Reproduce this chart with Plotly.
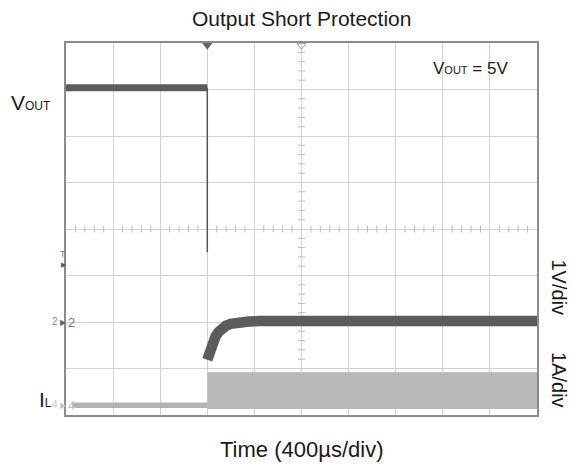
import plotly.graph_objects as go

# ---- data (time in µs, vertical in scope divisions from bottom) ----
vout_pre_t = [0, 1200]
vout_pre_v = [7.04, 7.04]
vout_fall_t = [1200, 1200]
vout_fall_v = [7.04, 3.5]
rise_t = [1200, 1210, 1220, 1235, 1250, 1270, 1295, 1325, 1360, 1400, 1460, 1550, 1650, 4000]
rise_v = [1.19, 1.285, 1.377, 1.493, 1.589, 1.69, 1.783, 1.866, 1.921, 1.962, 1.994, 2.012, 2.02, 2.02]
il_pre_t = [50, 1200]
il_pre_v = [0.21, 0.21]
il_band_t = [1200, 4000]
il_band_low = [0.13, 0.13]
il_band_high = [0.91, 0.91]

x_range = [0, 4000]
y_range = [0, 8]
time_per_div = 400
minor_x = [t for t in range(80, 4000, 80) if t % 400 != 0]
minor_y = [i / 5 for i in range(1, 40) if i % 5 != 0]
center_t = 2000
center_div = 4
trigger_t = 1200

FONT = "Arial, Liberation Sans, sans-serif"
DARK = "#5c5c5c"
LIGHT = "#b9b9b9"

fig = go.Figure()

# IL band after short (fill between low and high)
fig.add_trace(go.Scatter(x=il_band_t, y=il_band_low, mode="lines",
                         line=dict(color=LIGHT, width=0), showlegend=False, hoverinfo="skip"))
fig.add_trace(go.Scatter(x=il_band_t, y=il_band_high, mode="lines", fill="tonexty",
                         fillcolor=LIGHT, line=dict(color=LIGHT, width=1),
                         showlegend=False, hoverinfo="skip"))
# IL before short
fig.add_trace(go.Scatter(x=il_pre_t, y=il_pre_v, mode="lines",
                         line=dict(color="#b3b3b3", width=5.5), showlegend=False))
# minor ticks on center cross
fig.add_trace(go.Scatter(x=minor_x, y=[center_div] * len(minor_x), mode="markers",
                         marker=dict(symbol="line-ns", size=5, line=dict(color="#bcbcbc", width=1)),
                         showlegend=False, hoverinfo="skip"))
fig.add_trace(go.Scatter(x=[center_t] * len(minor_y), y=minor_y, mode="markers",
                         marker=dict(symbol="line-ew", size=5, line=dict(color="#bcbcbc", width=1)),
                         showlegend=False, hoverinfo="skip"))
# VOUT before short
fig.add_trace(go.Scatter(x=vout_pre_t, y=vout_pre_v, mode="lines",
                         line=dict(color=DARK, width=7), showlegend=False))
# VOUT fall
fig.add_trace(go.Scatter(x=vout_fall_t, y=vout_fall_v, mode="lines",
                         line=dict(color="#555555", width=1.5), showlegend=False))
# dark trace rise after short
fig.add_trace(go.Scatter(x=rise_t, y=rise_v, mode="lines",
                         line=dict(color=DARK, width=10.5), showlegend=False))
# top markers
fig.add_trace(go.Scatter(x=[trigger_t], y=[y_range[1] - 0.05], mode="markers",
                         marker=dict(symbol="triangle-down", size=9, color="#666666"),
                         cliponaxis=False, showlegend=False, hoverinfo="skip"))
fig.add_trace(go.Scatter(x=[center_t], y=[y_range[1] - 0.05], mode="markers",
                         marker=dict(symbol="triangle-down-open", size=8, color="#999999"),
                         cliponaxis=False, showlegend=False, hoverinfo="skip"))

ann = []
def A(text, x, y, size, color="#1a1a1a", xref="paper", yref="paper", xanchor="center",
      yanchor="middle", angle=0):
    ann.append(dict(text=text, x=x, y=y, xref=xref, yref=yref, showarrow=False,
                    xanchor=xanchor, yanchor=yanchor, textangle=angle,
                    font=dict(family=FONT, size=size, color=color)))

H = 372.0
def py(p):  # pixel y -> paper
    return (415 - p) / H
def px(p):
    return (p - 66) / 471.0

A("Output Short Protection", 0.5, py(18), 21)
A("Time (400µs/div)", 0.5, py(450), 22)
A("V<span style='font-size:12px'>OUT</span>", px(53), py(103), 21, xanchor="right")
A("I<span style='font-size:12px'>L</span>", px(54), py(399), 21, xanchor="right")
A("V<span style='font-size:11px'>OUT</span> = 5V", px(431), py(68), 17, xanchor="left")
A("1V/div", px(559), py(287.5), 20, angle=90)
A("1A/div", px(559), py(380), 20, angle=90)
# channel markers on the left edge
A("T", px(63), py(254), 9, color="#777777")
A("▶", px(64), py(264), 7, color="#555555")
A("2", px(55), py(321), 10, color="#888888")
A("▶", px(63), py(322), 8, color="#666666")
A("2", px(71), py(322), 13, color="#777777")
A("4", px(55), py(404), 10, color="#c4c4c4")
A("▶", px(63), py(405), 8, color="#c4c4c4")
A("4", px(71), py(405), 13, color="#c4c4c4")

fig.update_layout(
    width=571, height=466,
    margin=dict(l=66, r=34, t=43, b=51),
    paper_bgcolor="white", plot_bgcolor="white",
    annotations=ann,
    xaxis=dict(range=x_range, dtick=time_per_div, tick0=0, showgrid=True, gridcolor="#d2d2d2",
               gridwidth=1, zeroline=False, showticklabels=False, ticks="",
               showline=True, mirror=True, linecolor="#8c8c8c", linewidth=2, fixedrange=True),
    yaxis=dict(range=y_range, dtick=1, tick0=0, showgrid=True, gridcolor="#d2d2d2",
               gridwidth=1, zeroline=False, showticklabels=False, ticks="",
               showline=True, mirror=True, linecolor="#8c8c8c", linewidth=2, fixedrange=True),
    font=dict(family=FONT),
    showlegend=False,
)

fig.write_html("out.html", config={"displayModeBar": False},
               post_script="document.body.style.margin='0';document.body.style.padding='0';")
